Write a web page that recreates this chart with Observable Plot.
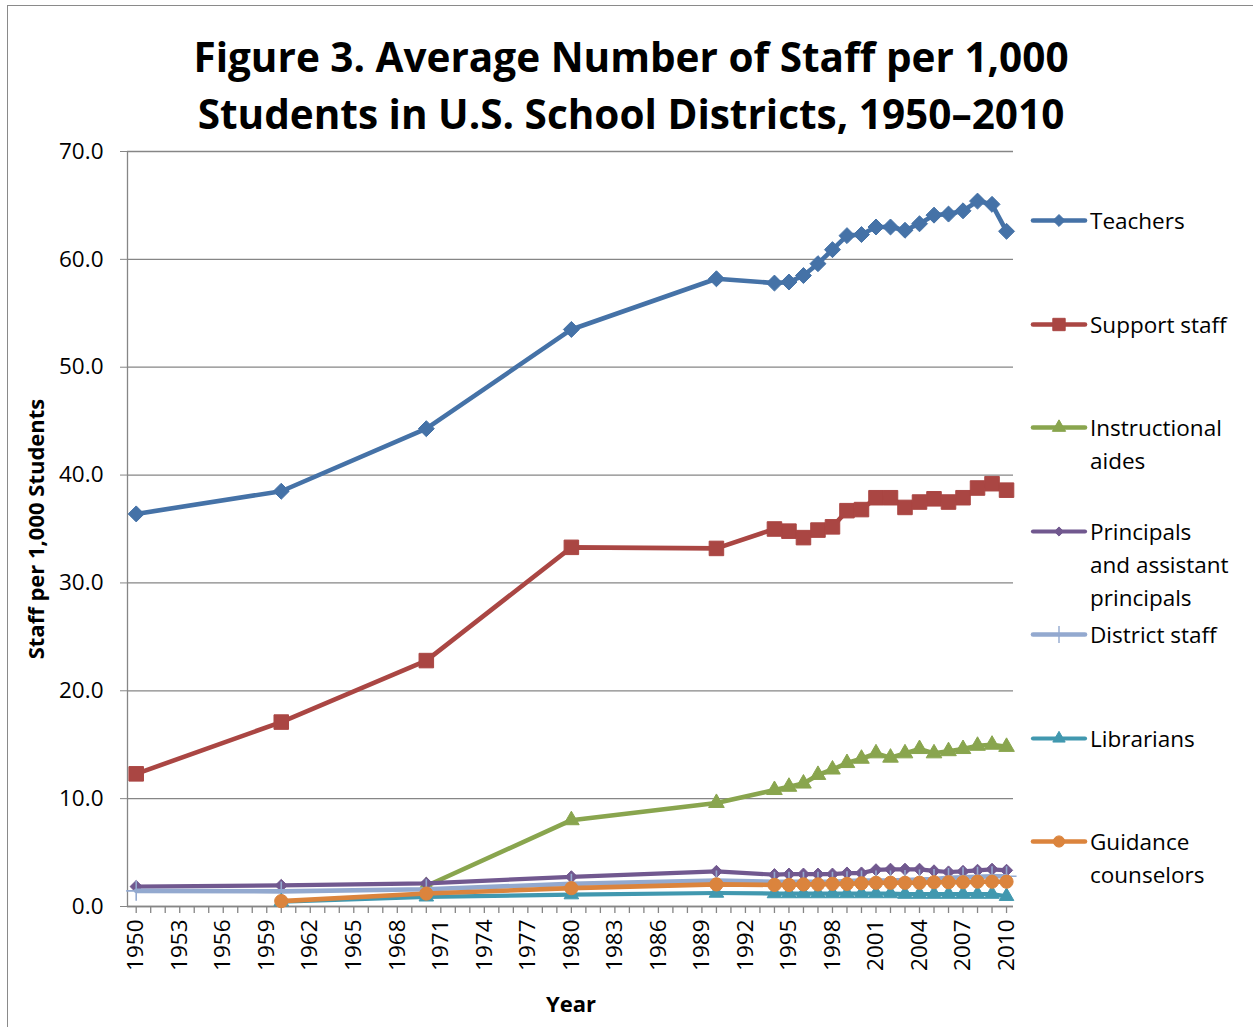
<!DOCTYPE html>
<html>
<head>
<meta charset="utf-8">
<script src="https://cdn.jsdelivr.net/npm/d3@7"></script>
<script src="https://cdn.jsdelivr.net/npm/@observablehq/plot@0.6"></script>
<style>
  body { margin: 0; background: #fff; font-family: "Open Sans", sans-serif; }
  #wrap { position: relative; width: 1253px; height: 1027px; overflow: hidden; background: #fff; }
  #frame { position: absolute; left: 7px; top: 5px; width: 1260px; height: 1040px; border-left: 1px solid #8a8a8a; border-top: 1px solid #8a8a8a; z-index: 5; pointer-events: none; }
  #title { position: absolute; left: 0; top: 28px; width: 1262px; text-align: center; font-weight: 700; font-size: 40.5px; line-height: 57px; color: #000; }
  #plot { position: absolute; left: 0; top: 128px; }
  #ylabel { position: absolute; left: 35px; top: 529px; transform: translate(-50%, -50%) rotate(-90deg); white-space: nowrap; font-weight: 700; font-size: 22px; color: #000; }
  #xlabel { position: absolute; left: 571px; top: 1003px; transform: translate(-50%, -50%); font-weight: 700; font-size: 22px; color: #000; }
  .leg { position: absolute; left: 1030px; font-size: 22.5px; line-height: 33px; color: #000; }
  .leg svg { position: absolute; left: 0; top: 0; }
  .leg span { position: absolute; left: 60px; top: 0; white-space: nowrap; }
</style>
</head>
<body>
<div id="wrap">
  <div id="title">Figure 3. Average Number of Staff per 1,000<br>Students in U.S. School Districts, 1950–2010</div>
  <div id="plot"></div>
  <div id="ylabel">Staff per 1,000 Students</div>
  <div id="xlabel">Year</div>
  <div id="legend"></div>
  <div id="frame"></div>
</div>
<script>
// ---- data ----
const years = [1950, 1960, 1970, 1980, 1990, 1994, 1995, 1996, 1997, 1998, 1999, 2000, 2001, 2002, 2003, 2004, 2005, 2006, 2007, 2008, 2009, 2010];
const teachers = [36.4, 38.5, 44.3, 53.5, 58.2, 57.8, 57.9, 58.5, 59.6, 60.9, 62.2, 62.3, 63.0, 63.0, 62.7, 63.3, 64.1, 64.2, 64.5, 65.4, 65.1, 62.6];
const supportStaff = [12.3, 17.1, 22.8, 33.3, 33.2, 35.0, 34.8, 34.2, 34.9, 35.2, 36.7, 36.8, 37.9, 37.9, 37.0, 37.5, 37.8, 37.5, 37.9, 38.8, 39.2, 38.6];
const instructionalAides = [null, null, 1.9, 8.0, 9.6, 10.8, 11.1, 11.4, 12.2, 12.7, 13.3, 13.7, 14.2, 13.8, 14.2, 14.6, 14.2, 14.4, 14.6, 14.9, 15.0, 14.8];
const principals = [1.85, 1.95, 2.15, 2.75, 3.25, 2.95, 3.0, 3.0, 3.0, 3.0, 3.1, 3.1, 3.4, 3.45, 3.45, 3.45, 3.3, 3.2, 3.25, 3.35, 3.45, 3.35];
const districtStaff = [1.45, 1.4, 1.6, 2.1, 2.4, 2.3, 2.3, 2.3, 2.3, 2.3, 2.35, 2.4, 2.4, 2.4, 2.45, 2.5, 2.55, 2.65, 2.7, 2.75, 2.8, 2.8];
const librarians = [null, 0.45, 0.9, 1.1, 1.25, 1.2, 1.2, 1.2, 1.2, 1.2, 1.2, 1.2, 1.2, 1.2, 1.15, 1.15, 1.15, 1.15, 1.15, 1.15, 1.15, 0.95];
const guidanceCounselors = [null, 0.5, 1.2, 1.7, 2.05, 2.0, 2.0, 2.05, 2.05, 2.1, 2.1, 2.15, 2.2, 2.2, 2.2, 2.2, 2.25, 2.25, 2.25, 2.3, 2.3, 2.3];

const seriesNames = ["Teachers", "Support staff", "Instructional aides", "Principals and assistant principals", "District staff", "Librarians", "Guidance counselors"];
const seriesValues = [teachers, supportStaff, instructionalAides, principals, districtStaff, librarians, guidanceCounselors];
const legendLines = [["Teachers"], ["Support staff"], ["Instructional", "aides"], ["Principals", "and assistant", "principals"], ["District staff"], ["Librarians"], ["Guidance", "counselors"]];
const yTicks = [0, 10, 20, 30, 40, 50, 60, 70];
const xLabelTicks = d3.range(1950, 2011, 3);
const xMinorTicks = d3.range(1950, 2011, 1);

// ---- styles ----
const styles = [
  {color: "#4572A7", symbol: "diamond2", r: 7.2, sw: 4.6, mstroke: null},
  {color: "#AA4643", symbol: "square", r: 8.2, sw: 4.6, mstroke: null},
  {color: "#89A54E", symbol: "triangle", r: 5.8, sw: 4.6, mstroke: null},
  {color: "#71588F", symbol: "diamond2", r: 5.5, sw: 4.2, mstroke: null},
  {color: "#93A9CF", symbol: "plus", r: 6.5, sw: 4.6, mstroke: 1.6},
  {color: "#4198AF", symbol: "triangle", r: 5.4, sw: 4.2, mstroke: null},
  {color: "#DB843D", symbol: "circle", r: 6.6, sw: 4.6, mstroke: null}
];

const marks = [];
marks.push(Plot.gridY(yTicks, {stroke: "#868686", strokeOpacity: 1, strokeWidth: 1.3}));
marks.push(Plot.ruleX([1949.4], {stroke: "#868686", strokeWidth: 1.3}));
marks.push(Plot.ruleY([0], {stroke: "#868686", strokeWidth: 1.3}));
marks.push(Plot.axisY({ticks: yTicks, tickSize: 7, tickPadding: 17, tickFormat: d => d.toFixed(1), fontSize: 22.5, stroke: "#868686", label: null, fill: "#000"}));
marks.push(Plot.axisX({ticks: xMinorTicks, tickSize: 7, stroke: "#868686", strokeWidth: 1.3, fill: "none", label: null}));
marks.push(Plot.axisX({ticks: xLabelTicks, tickSize: 0, tickPadding: 13, tickRotate: -90, tickFormat: d => String(d), fontSize: 22.5, fill: "#000", label: null}));

seriesValues.forEach((vals, i) => {
  const data = years.map((yr, j) => ({year: yr, value: vals[j]})).filter(d => d.value != null);
  const s = styles[i];
  marks.push(Plot.line(data, {x: "year", y: "value", stroke: s.color, strokeWidth: s.sw, strokeLinejoin: "round", strokeLinecap: "round"}));
  if (s.mstroke) {
    marks.push(Plot.dot(data, {x: "year", y: "value", symbol: s.symbol, r: s.r, stroke: s.color, strokeWidth: s.mstroke}));
  } else {
    marks.push(Plot.dot(data, {x: "year", y: "value", symbol: s.symbol, r: s.r, fill: s.color, stroke: s.color, strokeWidth: 1}));
  }
});

const chart = Plot.plot({
  width: 1253,
  height: 899,
  marginTop: 23,
  marginLeft: 127,
  marginRight: 240,
  marginBottom: 121,
  style: {fontFamily: "Open Sans, sans-serif", fontSize: "22px", color: "#000", background: "transparent"},
  x: {domain: [1949.4, 2010.48], label: null},
  y: {domain: [0, 70], label: null},
  marks
});
document.getElementById("plot").appendChild(chart);

// ---- legend ----
const legendTop = [220, 324, 427, 531, 634, 738, 841];
const legend = document.getElementById("legend");
seriesNames.forEach((name, i) => {
  const s = styles[i];
  const div = document.createElement("div");
  div.className = "leg";
  div.style.top = (legendTop[i] - 16.5) + "px";
  const svg = d3.create("svg").attr("width", 60).attr("height", 33);
  svg.append("line").attr("x1", 3).attr("x2", 55).attr("y1", 16.5).attr("y2", 16.5)
    .attr("stroke", s.color).attr("stroke-width", s.sw).attr("stroke-linecap", "round");
  const symMap = {diamond2: d3.symbolDiamond2, square: d3.symbolSquare, triangle: d3.symbolTriangle, plus: d3.symbolPlus, circle: d3.symbolCircle};
  const scale = i === 0 || i === 3 ? 0.75 : 0.85;
  const size = Math.PI * (s.r * scale) * (s.r * scale);
  const p = svg.append("path").attr("d", d3.symbol(symMap[s.symbol], size)()).attr("transform", "translate(29,16.5)");
  if (s.mstroke) p.attr("fill", "none").attr("stroke", s.color).attr("stroke-width", 1.4);
  else p.attr("fill", s.color).attr("stroke", s.color);
  div.appendChild(svg.node());
  const span = document.createElement("span");
  span.innerHTML = legendLines[i].join("<br>");
  div.appendChild(span);
  legend.appendChild(div);
});
</script>
</body>
</html>
